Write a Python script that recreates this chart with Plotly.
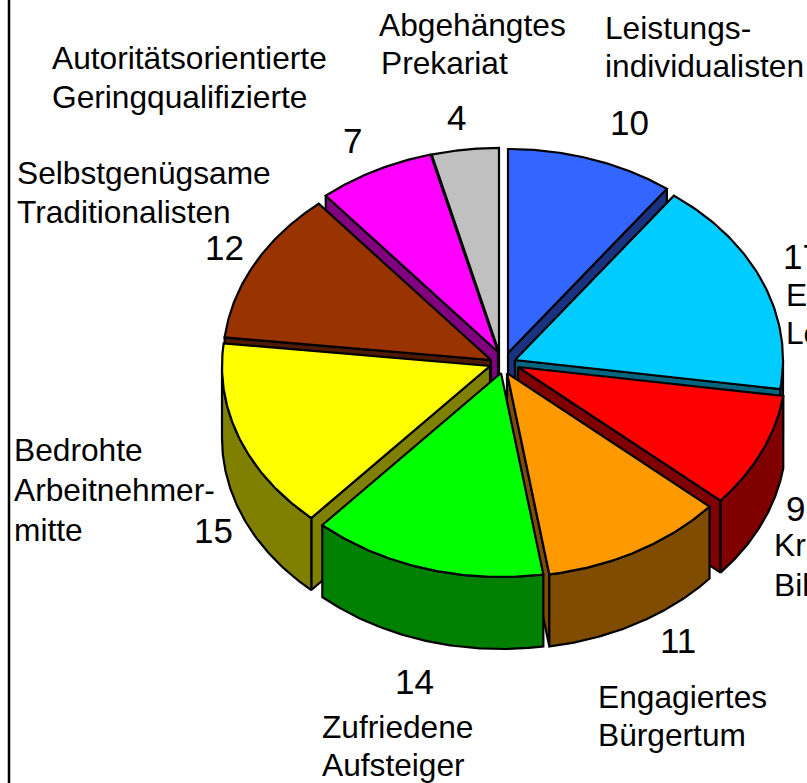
import numpy as np
import plotly.graph_objects as go

# Data
categories = ["Leistungsindividualisten", "Etablierte Leistungsträger", "Kritische Bildungseliten",
              "Engagiertes Bürgertum", "Zufriedene Aufsteiger", "Bedrohte Arbeitnehmermitte",
              "Selbstgenügsame Traditionalisten", "Autoritätsorientierte Geringqualifizierte",
              "Abgehängtes Prekariat"]
values = [10, 17, 9, 11, 14, 15, 12, 7, 4]

# Styles
top_colors = ["#3366FF", "#00CCFF", "#FF0000", "#FF9900", "#00FF00", "#FFFF00", "#993300", "#FF00FF", "#C0C0C0"]
side_colors = ["#1A3380", "#006680", "#800000", "#804D00", "#008000", "#808000", "#4D1A00", "#800080", "#606060"]

# Geometry of the tilted pie (pixels)
CX, CY, RX, RY, DEPTH = 504, 361, 268, 204, 72
# how far each slice is pulled out of the pie
pull_dx = [4, 11, 14, 3, -3, -14, -13, -6, -5]
pull_dy = [-8, -1, 6, 12, 12, 5, -1, -9, -9]
LW = 2.2

# Text layout: (text, x, baseline y)
category_lines = [
    ("Leistungs-", 603, 38), ("individualisten", 603, 76),
    ("Etablierte", 784, 305), ("Leistungsträger", 784, 343),
    ("Kritische", 772, 555), ("Bildungseliten", 772, 595),
    ("Engagiertes", 596, 707), ("Bürgertum", 596, 745),
    ("Zufriedene", 320, 737), ("Aufsteiger", 320, 775),
    ("Bedrohte", 12, 460), ("Arbeitnehmer-", 12, 500), ("mitte", 12, 540),
    ("Selbstgenügsame", 15, 183), ("Traditionalisten", 15, 222),
    ("Autoritätsorientierte", 50, 68), ("Geringqualifizierte", 50, 107),
    ("Abgehängtes", 377, 35), ("Prekariat", 379, 73),
]
value_positions = [(629, 134), (802, 268), (795, 520), (678, 652), (414, 693), (213, 542), (224, 259), (352, 152), (456, 129)]
LABEL_SIZE, VALUE_SIZE = 31.7, 35

fig = go.Figure()
total = sum(values)
edges = np.cumsum([0] + values) / total * 2 * np.pi
slices = []
for i in range(len(values)):
    a0, a1 = edges[i], edges[i + 1]
    slices.append((i, a0, a1, (a0 + a1) / 2, CX + pull_dx[i], CY + pull_dy[i]))


def poly(xs, ys, color):
    fig.add_trace(go.Scatter(x=list(xs) + [xs[0]], y=list(ys) + [ys[0]], mode="lines", fill="toself",
                             fillcolor=color, line=dict(color="black", width=LW), hoverinfo="skip",
                             showlegend=False))


for i, a0, a1, mid, ax, ay in sorted(slices, key=lambda s: -np.cos(s[3])):
    t = np.linspace(a0, a1, 80)
    ex, ey = ax + RX * np.sin(t), ay - RY * np.cos(t)
    # radial side walls, only those facing the viewer
    if np.sin(a0) < -1e-9:
        poly([ax, ex[0], ex[0], ax], [ay, ey[0], ey[0] + DEPTH, ay + DEPTH], side_colors[i])
    if np.sin(a1) > 1e-9:
        poly([ax, ex[-1], ex[-1], ax], [ay, ey[-1], ey[-1] + DEPTH, ay + DEPTH], side_colors[i])
    # outer wall, only the part facing the viewer
    f0, f1 = max(a0, np.pi / 2), min(a1, 3 * np.pi / 2)
    if f1 > f0:
        u = np.linspace(f0, f1, 80)
        ux, uy = ax + RX * np.sin(u), ay - RY * np.cos(u)
        poly(np.r_[ux, ux[::-1]], np.r_[uy, uy[::-1] + DEPTH], side_colors[i])
    # top
    poly(np.r_[ax, ex], np.r_[ay, ey], top_colors[i])

annotations = []
for text, x, base in category_lines:
    annotations.append(dict(x=x, y=base - 0.33 * LABEL_SIZE, text=text, xanchor="left", yanchor="middle",
                            showarrow=False, font=dict(size=LABEL_SIZE, color="black")))
for v, (x, base) in zip(values, value_positions):
    annotations.append(dict(x=x, y=base - 0.33 * VALUE_SIZE, text=str(v), xanchor="center", yanchor="middle",
                            showarrow=False, font=dict(size=VALUE_SIZE, color="black")))

fig.update_layout(
    width=807, height=783, margin=dict(l=0, r=0, t=0, b=0), autosize=False,
    paper_bgcolor="white", plot_bgcolor="white",
    font=dict(family="Liberation Sans"),
    xaxis=dict(range=[0, 807], visible=False, fixedrange=True),
    yaxis=dict(range=[783, 0], visible=False, fixedrange=True),
    annotations=annotations,
    shapes=[dict(type="line", x0=9, x1=9, y0=0, y1=783, line=dict(color="black", width=2.5))],
)
fig.write_html("out.html", config={"displayModeBar": False},
               post_script="document.body.style.margin='0';document.body.style.overflow='hidden';")
